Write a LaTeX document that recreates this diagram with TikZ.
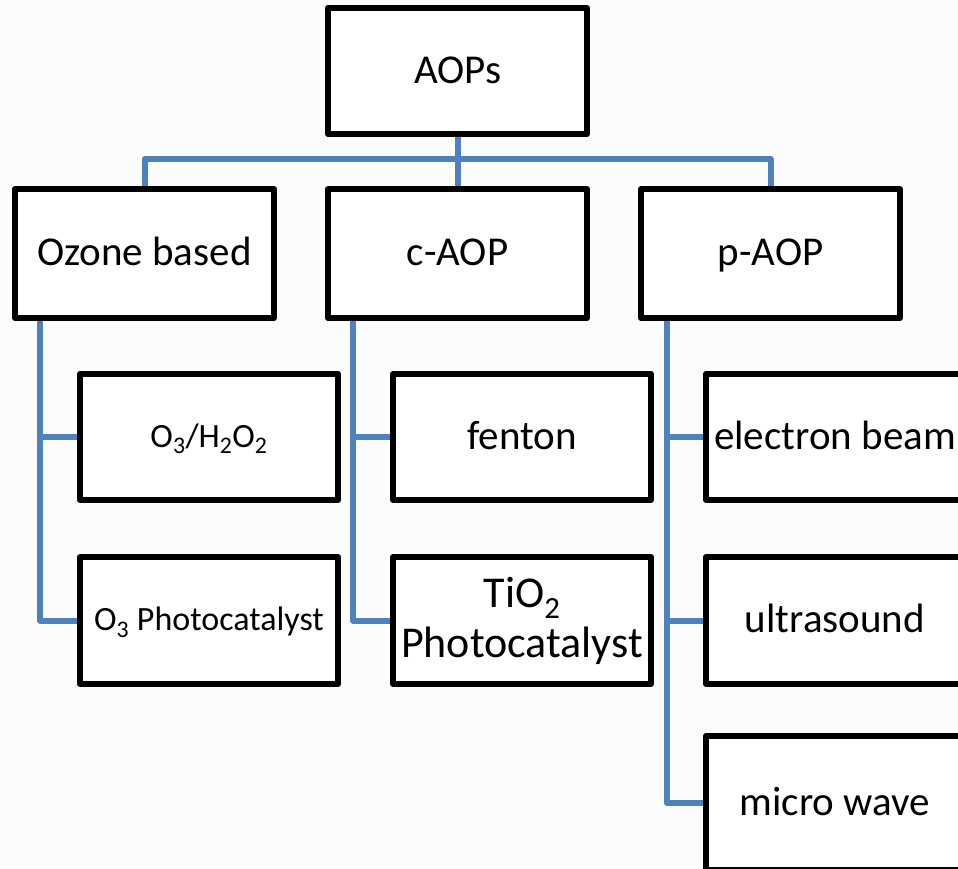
\documentclass[tikz,border=0pt]{standalone}
\usepackage{fontspec}
\setmainfont{Carlito}
\usetikzlibrary{backgrounds}
\definecolor{conncol}{HTML}{4F81BD}
\begin{document}
\begin{tikzpicture}[x=1pt,y=1pt,
  box/.style={draw=black, line width=6pt, fill=white, line join=round, inner sep=0pt, align=center},
  bigbox/.style={box, font=\fontsize{41}{46}\selectfont, text height=30pt, text depth=6pt},
  smallbox/.style={box, font=\fontsize{34}{40}\selectfont, text height=26pt, text depth=6pt},
  twoline/.style={box, font=\fontsize{44}{50}\selectfont},
  conn/.style={draw=conncol, line width=6pt, line join=round}]
\useasboundingbox (0,0) rectangle (958,-868);
\clip (0,0) rectangle (958,-868);
\node[bigbox, minimum width=259pt, minimum height=126pt] (aops) at (457.5,-71) {AOPs};
\node[bigbox, minimum width=259pt, minimum height=129pt] (ozone) at (144.5,-253.5) {Ozone based};
\node[bigbox, minimum width=259pt, minimum height=129pt] (caop) at (457.5,-253.5) {c-AOP};
\node[bigbox, minimum width=259pt, minimum height=129pt] (paop) at (770.5,-253.5) {p-AOP};
\node[smallbox, minimum width=258pt, minimum height=126pt] (oh) at (209,-437) {O\textsubscript{3}/H\textsubscript{2}O\textsubscript{2}};
\node[smallbox, minimum width=258pt, minimum height=127pt] (opc) at (209,-620.5) {O\textsubscript{3} Photocatalyst};
\node[bigbox, minimum width=258pt, minimum height=126pt] (fenton) at (522,-437) {fenton};
\node[twoline, minimum width=258pt, minimum height=127pt] (tio) at (522,-620.5) {TiO\textsubscript{2}\\Photocatalyst};
\node[bigbox, minimum width=258pt, minimum height=126pt] (eb) at (835,-437) {electron beam};
\node[bigbox, minimum width=258pt, minimum height=127pt] (us) at (835,-620.5) {ultrasound};
\node[bigbox, minimum width=258pt, minimum height=134pt] (mw) at (835,-803) {micro wave};
\begin{scope}[on background layer]
\fill[white!99!black] (0,0) rectangle (958,-868);
\draw[conn] (ozone.north) -- ++(0,27) -| (paop.north);
\draw[conn] (aops.south) -- (caop.north);
\draw[conn] ([xshift=-104.5pt]ozone.south) |- (opc.west);
\draw[conn] ([xshift=-104.5pt]ozone.south) |- (oh.west);
\draw[conn] ([xshift=-104.5pt]caop.south) |- (tio.west);
\draw[conn] ([xshift=-104.5pt]caop.south) |- (fenton.west);
\draw[conn] ([xshift=-103.5pt]paop.south) |- (mw.west);
\draw[conn] ([xshift=-103.5pt]paop.south) |- (us.west);
\draw[conn] ([xshift=-103.5pt]paop.south) |- (eb.west);
\end{scope}
\end{tikzpicture}
\end{document}
